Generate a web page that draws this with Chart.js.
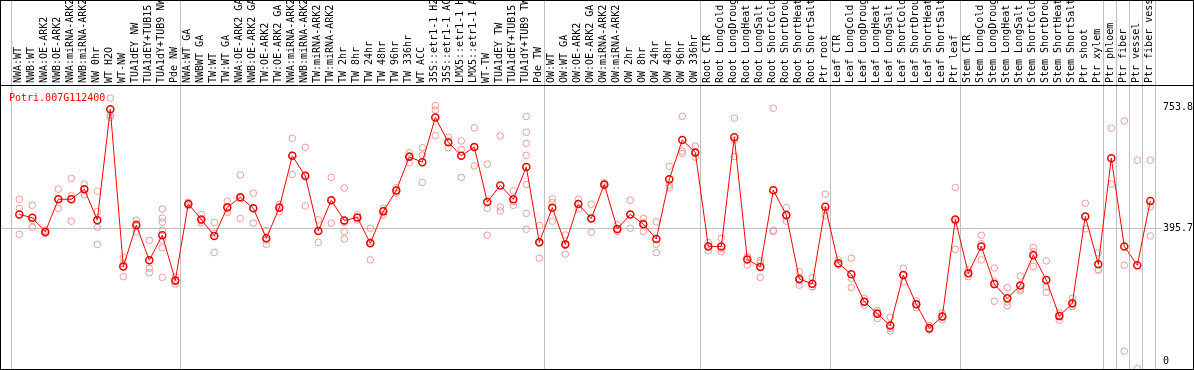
<!DOCTYPE html>
<html lang="en">
<head>
  <meta charset="UTF-8">
  <title>Potri.007G112400</title>
  <script src="https://cdn.jsdelivr.net/npm/chart.js"></script>
  <style>
    body {
      margin: 0;
      background: #fff;
    }
    .wrap {
      position: relative;
      width: 1194px;
      height: 370px;
    }
    #title {
      position: absolute;
      left: 9px;
      top: 92px;
      font: 10px/12px "DejaVu Sans Mono", monospace;
      color: #ff0000;
    }
  </style>
</head>
<body>
  <div class="wrap">
    <canvas id="chart" width="1194" height="370"></canvas>
    <div id="title">Potri.007G112400</div>
  </div>

  <script>
    // sample names, left to right
    const categories = [
      "NWA:WT", "NWB:WT", "NWA:OE-ARK2", "NWB:OE-ARK2", "NWA:miRNA-ARK2", "NWB:miRNA-ARK2",
      "NW 0hr", "WT H2O", "WT-NW", "TUA1dEY NW", "TUA1dEY+TUB15 NW", "TUA1dY+TUB9 NW", "Pde NW",
      "NWA:WT GA", "NWBWT GA", "TW:WT", "TW:WT GA", "NWA:OE-ARK2 GA", "NWB:OE-ARK2 GA",
      "TW:OE-ARK2", "TW:OE-ARK2 GA", "NWA:miRNA-ARK2 GA", "NWB:miRNA-ARK2 GA", "TW:miRNA-ARK2",
      "TW:miRNA-ARK2 GA", "TW 2hr", "TW 8hr", "TW 24hr", "TW 48hr", "TW 96hr", "TW 336hr", "WT ACC",
      "35S::etr1-1 H2O", "35S::etr1-1 ACC", "LMX5::etr1-1 H2O", "LMX5::etr1-1 ACC", "WT-TW",
      "TUA1dEY TW", "TUA1dEY+TUB15 TW", "TUA1dY+TUB9 TW", "Pde TW",
      "OW:WT", "OW:WT GA", "OW:OE-ARK2", "OW:OE-ARK2 GA", "OW:miRNA-ARK2", "OW:miRNA-ARK2 GA",
      "OW 2hr", "OW 8hr", "OW 24hr", "OW 48hr", "OW 96hr", "OW 336hr",
      "Root CTR", "Root LongCold", "Root LongDrought", "Root LongHeat", "Root LongSalt",
      "Root ShortCold", "Root ShortDrought", "Root ShortHeat", "Root ShortSalt", "Ptr root",
      "Leaf CTR", "Leaf LongCold", "Leaf LongDrought", "Leaf LongHeat", "Leaf LongSalt",
      "Leaf ShortCold", "Leaf ShortDrought", "Leaf ShortHeat", "Leaf ShortSalt", "Ptr leaf",
      "Stem CTR", "Stem LongCold", "Stem LongDrought", "Stem LongHeat", "Stem LongSalt",
      "Stem ShortCold", "Stem ShortDrought", "Stem ShortHeat", "Stem ShortSalt", "Ptr shoot", "Ptr xylem",
      "Ptr phloem", "Ptr fiber", "Ptr vessel", "Ptr fiber vessel"
    ];

    // mean expression per sample
    const meanValues = [
      437, 427, 385, 482, 482, 512, 420, 749, 282, 405, 301, 375, 241,
      468, 422, 373, 458, 488, 455, 366, 457, 611, 551, 388, 479, 419, 428, 351, 446,
      508, 608, 592, 725, 651, 611, 637, 474, 523, 482, 578, 354,
      457, 348, 468, 425, 526, 394, 437, 408, 364, 541, 658, 621,
      342, 342, 666, 303, 281, 509, 435, 245, 231, 460,
      292, 259, 178, 142, 107, 257, 170, 99, 134, 422,
      262, 342, 230, 188, 226, 316, 242, 135, 173, 431, 289,
      604, 342, 286, 477
    ];

    // individual replicates per sample
    const replicateValues = [
      [482, 455, 378], [464, 419, 399], [390, 385, 380], [512, 482, 455], [544, 492, 417],
      [527, 512, 495], [506, 445, 399, 348], [782, 732, 725], [309, 290, 252], [420, 410, 385],
      [360, 277, 264], [453, 426, 414, 390, 361, 338, 250], [251, 237, 230],
      [473, 468, 463], [437, 418, 412], [413, 381, 324], [476, 455, 443], [554, 484, 425],
      [500, 455, 411], [389, 361, 348], [467, 459, 445], [663, 613, 556], [636, 555, 462],
      [421, 388, 354], [547, 479, 411], [515, 413, 386, 364], [437, 428, 420], [396, 356, 302],
      [455, 448, 435], [516, 508, 500], [620, 611, 591], [635, 613, 532], [760, 747, 671],
      [666, 652, 635], [655, 630, 547], [694, 637, 581], [586, 455, 375], [670, 459, 447],
      [507, 475, 464], [728, 681, 648, 612, 526, 440, 393], [404, 352, 307],
      [483, 472, 417], [376, 350, 319], [482, 469, 453], [467, 425, 384], [531, 526, 521],
      [406, 391, 386], [479, 437, 396], [425, 412, 386], [415, 348, 324], [580, 524, 516],
      [728, 625, 618], [640, 618, 607],
      [354, 343, 329], [366, 334, 326], [723, 658, 609], [311, 311, 287], [300, 293, 250],
      [752, 390, 386], [457, 431, 417], [267, 241, 227], [249, 222, 222], [497, 450, 433],
      [302, 288, 287], [307, 247, 220], [188, 178, 168], [152, 146, 128], [132, 99, 91],
      [277, 257, 237], [180, 170, 160], [107, 97, 94], [144, 134, 124], [517, 417, 333],
      [272, 262, 252], [375, 350, 302], [278, 237, 179], [220, 177, 166], [254, 215, 210],
      [339, 326, 283], [299, 222, 206], [145, 137, 123], [188, 168, 163], [470, 430, 394],
      [323, 272, 272],
      [693, 527], [714, 286, 31], [598, -20], [598, 460, 373]
    ];

    // first sample index of each block (gray separators), plus the end
    const groupStarts = [0, 13, 41, 53, 63, 73, 84, 85, 86, 87, 88];

    const yTickValues = [0, 395.7, 753.8];

    const meanPoints = meanValues.map((v, i) => ({ x: i, y: v }));
    const replicatePoints = [];
    replicateValues.forEach((reps, i) => {
      reps.forEach(r => replicatePoints.push({ x: i, y: r }));
    });

    const xMin = -1.408;
    const xMax = xMin + 1161 / 13;

    // outer frame and line under the labels
    const framePlugin = {
      id: "frame",
      afterDraw(chart) {
        const ctx = chart.ctx;
        const top = chart.chartArea.top;
        ctx.save();
        ctx.strokeStyle = "#000";
        ctx.lineWidth = 1;
        ctx.strokeRect(0.5, 0.5, chart.width - 1, chart.height - 1);
        ctx.beginPath();
        ctx.moveTo(0, top + 0.5);
        ctx.lineTo(chart.width, top + 0.5);
        ctx.stroke();
        ctx.restore();
      }
    };

    const monoFont = { family: "'DejaVu Sans Mono', monospace", size: 10 };

    // keep chart.js from reserving room for the first/last rotated label
    function noSidePadding(s) {
      s.paddingLeft = 0;
      s.paddingRight = 0;
    }

    new Chart(document.getElementById("chart").getContext("2d"), {
      type: "line",
      data: {
        datasets: [
          {
            label: "mean",
            data: meanPoints,
            xAxisID: "x",
            yAxisID: "y",
            borderColor: "#ff0000",
            borderWidth: 1,
            tension: 0,
            pointRadius: 3.5,
            pointBorderWidth: 1.5,
            pointBorderColor: "#e80000",
            pointBackgroundColor: "rgba(0,0,0,0)"
          },
          {
            label: "replicates",
            data: replicatePoints,
            xAxisID: "x",
            yAxisID: "y",
            showLine: false,
            pointRadius: 3.3,
            pointBorderWidth: 1,
            pointBorderColor: "#f09a9a",
            pointBackgroundColor: "rgba(0,0,0,0)"
          }
        ]
      },
      options: {
        responsive: false,
        animation: false,
        layout: { autoPadding: false, padding: { left: 1, right: 1, top: 1, bottom: 1 } },
        plugins: {
          legend: { display: false },
          tooltip: { enabled: false }
        },
        scales: {
          xs: {
            type: "linear",
            position: "top",
            weight: 0,
            min: xMin,
            max: xMax,
            afterBuildTicks: s => { s.ticks = groupStarts.map(g => ({ value: g - 0.62 })); },
            afterFit: s => { s.height = 0; noSidePadding(s); },
            ticks: { display: false },
            grid: { color: "#c0c0c0", lineWidth: 1, drawTicks: true, tickLength: 85 },
            border: { display: false }
          },
          x: {
            type: "linear",
            position: "top",
            weight: 1,
            min: xMin,
            max: xMax,
            afterBuildTicks: s => { s.ticks = categories.map((c, i) => ({ value: i })); },
            afterFit: s => { s.height = 84; noSidePadding(s); },
            ticks: {
              autoSkip: false,
              minRotation: 90,
              maxRotation: 90,
              padding: 2,
              labelOffset: 11,
              color: "#000",
              font: monoFont,
              callback: v => categories[v]
            },
            grid: { display: false, drawTicks: false },
            border: { display: false }
          },
          y: {
            type: "linear",
            position: "right",
            min: -22,
            max: 821.2,
            afterBuildTicks: s => { s.ticks = yTickValues.map(v => ({ value: v })); },
            afterFit: s => { s.width = 31; s.paddingTop = 0; s.paddingBottom = 0; },
            ticks: {
              padding: 1,
              color: "#000",
              font: monoFont,
              callback: v => (v === 0 ? "0" : v.toFixed(1))
            },
            grid: {
              color: c => (c.tick && c.tick.value === 395.7 ? "#c0c0c0" : "rgba(0,0,0,0)"),
              drawTicks: false
            },
            border: { display: false }
          }
        }
      },
      plugins: [framePlugin]
    });
  </script>
</body>
</html>
